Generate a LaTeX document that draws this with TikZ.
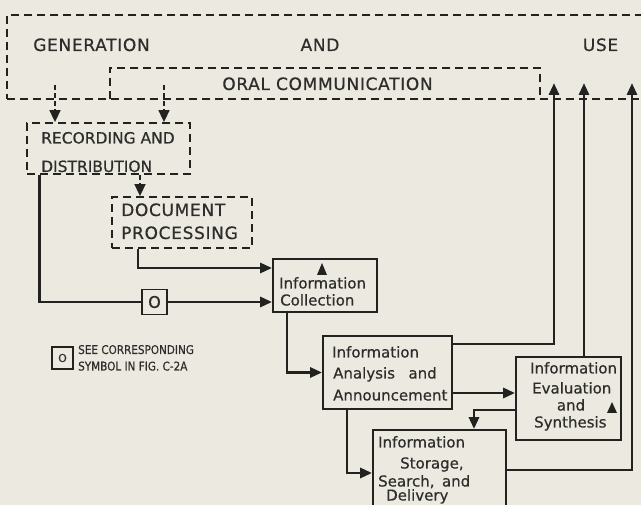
\documentclass[tikz,border=0pt]{standalone}
\usepackage{fontspec}
\usepackage{graphicx}
\usetikzlibrary{arrows.meta}
\newfontfamily\labfont[FakeBold=0.6]{DejaVu Sans}
\newfontfamily\capsfont[LetterSpace=4,FakeBold=0.6]{DejaVu Sans}
\definecolor{paper}{RGB}{236,234,224}
\definecolor{ink}{RGB}{34,34,32}
\definecolor{txt}{RGB}{45,45,43}
\begin{document}
\begin{tikzpicture}[x=1pt,y=-1pt,
 dbox/.style={draw=ink,line width=1.8pt,dash pattern=on 8pt off 5pt,inner sep=0pt},
 sbox/.style={draw=ink,line width=1.8pt,inner sep=0pt},
 conn/.style={draw=ink,line width=2.9pt},
 arr/.style={conn,-{Triangle[length=12pt,width=10pt]}},
 darr/.style={draw=ink,line width=1.6pt,dash pattern=on 5pt off 3pt,-{Triangle[length=12pt,width=11pt]}},
 bigcap/.style={text=txt,inner sep=0pt,anchor=base,font=\capsfont\fontsize{17}{20}\selectfont},
 capw/.style={text=txt,inner sep=0pt,anchor=base west,font=\capsfont\fontsize{17}{20}\selectfont},
 midcap/.style={text=txt,inner sep=0pt,anchor=base west,font=\labfont\fontsize{15.5}{18}\selectfont},
 lower/.style={text=txt,inner sep=0pt,anchor=base west,font=\labfont\fontsize{15}{18}\selectfont},
 legend/.style={text=txt,inner sep=0pt,anchor=base west,font=\labfont\fontsize{12}{14}\selectfont},
 symb/.style={text=txt,font=\labfont\fontsize{16}{18}\selectfont},
]
\clip (0,0) rectangle (641,505);
\fill[paper] (0,0) rectangle (641,505);

% outer dashed box and oral communication box
\node[dbox,minimum width=653pt,minimum height=84pt] (gen) at (333.5,57) {};
\node[inner sep=0pt,minimum width=430pt,minimum height=31pt] (oral) at (325,83.5) {};
\draw[ink,line width=1.8pt,dash pattern=on 8pt off 5pt] (oral.south west) -- (oral.north west) -- (oral.north east) -- (oral.south east);

\node[bigcap] (tgen) at (91.5,51) {GENERATION};
\node[bigcap] (tand) at (320,51) {AND};
\node[bigcap] (tuse) at (600.5,51) {USE};
\node[bigcap] (toral) at (327.5,90) {ORAL COMMUNICATION};

% dashed boxes
\node[dbox,minimum width=163pt,minimum height=51pt] (rec) at (108.5,148.5) {};
\node[midcap] (trec1) at (41,143.5) {RECORDING AND};
\node[midcap] (trec2) at (41,172) {DISTRIBUTION};

\node[dbox,minimum width=140pt,minimum height=51pt] (doc) at (182,222.5) {};
\node[capw] (tdoc1) at (121,216) {DOCUMENT};
\node[capw] (tdoc2) at (121,239) {PROCESSING};

% solid boxes
\node[sbox,minimum width=104pt,minimum height=53pt] (coll) at (325,285.5) {};
\node[lower] (tcoll1) at (279,288.5) {Information};
\node[lower] (tcoll2) at (280,305.5) {Collection};
\fill[ink] (317,275) -- (327,275) -- (322,263) -- cycle;

\node[sbox,minimum width=129pt,minimum height=73pt] (anal) at (387.5,372.5) {};
\node[lower] (tanal1) at (332,357.5) {Information};
\node[lower] (tanal2) at (333,378.5) {Analysis\hspace{0.9em}and};
\node[lower] (tanal3) at (333,400.5) {Announcement};

\node[sbox,minimum width=105pt,minimum height=83pt] (eval) at (568.5,398.5) {};
\node[lower] (teval1) at (530,373.5) {Information};
\node[lower] (teval2) at (532,393.5) {Evaluation};
\node[lower,anchor=base] (teval3) at (571,410.5) {and};
\node[lower] (teval4) at (534,427.5) {Synthesis};
\fill[ink] (607,413) -- (617,413) -- (612,402) -- cycle;

\node[sbox,minimum width=133pt,minimum height=100pt] (stor) at (439.5,480) {};
\node[lower] (tstor1) at (378,447.5) {Information};
\node[lower] (tstor2) at (400,468.5) {Storage,};
\node[lower] (tstor3) at (378,486.5) {Search,\hspace{0.5em}and};
\node[lower] (tstor4) at (386,500.5) {Delivery};

% symbol boxes
\node[sbox,minimum width=25pt,minimum height=25pt] (obox) at (154.5,302) {};
\node[symb] (tobox) at (obox.center) {O};
\node[sbox,minimum width=21pt,minimum height=22pt] (lbox) at (62.5,358) {};
\node[symb,font=\labfont\fontsize{11}{13}\selectfont] (tlbox) at (lbox.center) {O};
\node[legend] (tleg1) at (78,354) {\scalebox{0.87}[1]{SEE CORRESPONDING}};
\node[legend] (tleg2) at (78,370.5) {\scalebox{0.87}[1]{SYMBOL IN FIG. C-2A}};

% free ends
\coordinate (g1) at (55,85);
\coordinate (g2) at (164,85);
\coordinate (rd) at (140,0);
\coordinate (u1) at (554,83);
\coordinate (u2) at (584,83);
\coordinate (u3) at (632,83);

% connectors
\draw[darr] (g1) -- (g1 |- rec.north);
\draw[darr] (g2) -- (g2 |- rec.north);
\draw[darr] (rd |- rec.south) -- (rd |- doc.north);
\draw[arr] ([xshift=-44pt]doc.south) |- ([yshift=17.5pt]coll.west);
\draw[conn] ([xshift=13pt]rec.south west) |- (obox.west);
\draw[arr] (obox.east) -- (obox.east -| coll.west);
\draw[arr] ([xshift=-38pt]coll.south) |- (anal.west);
\draw[arr] ([yshift=28.5pt]anal.east) -| (u1);
\draw[arr] ([yshift=-20.5pt]anal.east) -- ([yshift=-20.5pt]anal.east -| eval.west);
\draw[arr] (u2 |- eval.north) -- (u2);
\draw[arr] ([yshift=-11.5pt]eval.west) -| ([xshift=34.5pt]stor.north);
\draw[arr] ([xshift=-40.5pt]anal.south) |- ([yshift=7pt]stor.west);
\draw[arr] ([yshift=10pt]stor.east) -| (u3);
\end{tikzpicture}
\end{document}
